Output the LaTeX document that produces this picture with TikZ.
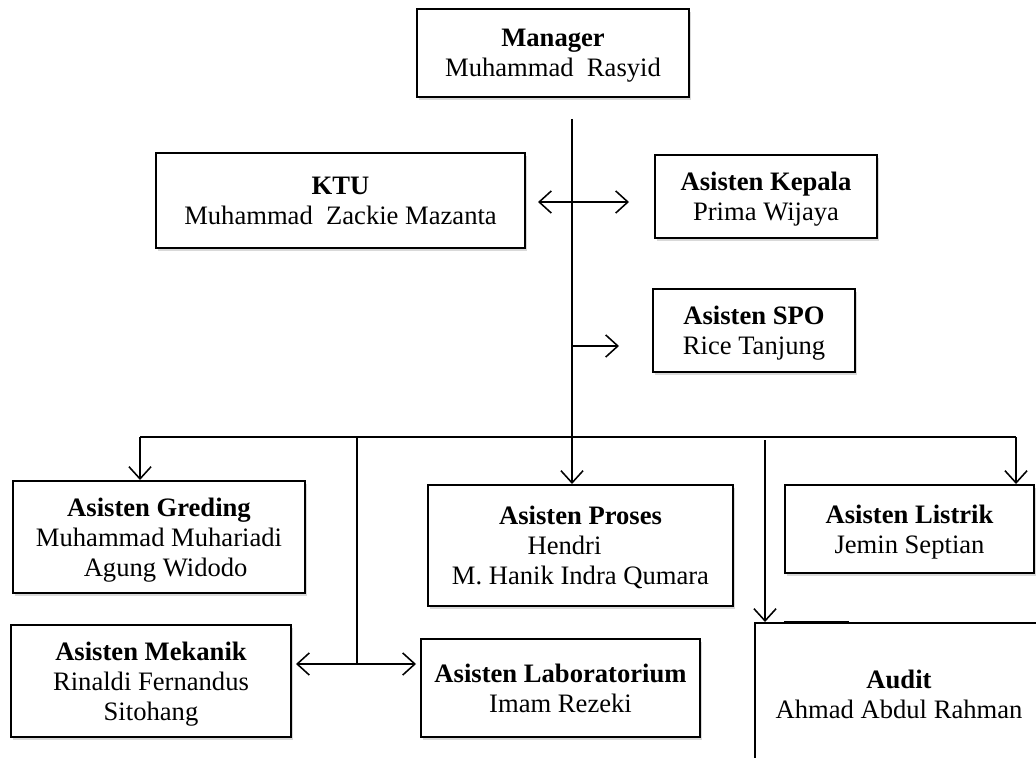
\documentclass[tikz,border=0pt]{standalone}
\usepackage{fontspec}
\setmainfont{Liberation Serif}
\usetikzlibrary{arrows.meta,shadows}

\tikzset{
  kotak/.style={draw, line width=0.9pt, fill=white, align=center, inner sep=0pt, text depth=0pt,
    drop shadow={opacity=0.3, shadow xshift=1pt, shadow yshift=-1.5pt}},
  ukuran/.style 2 args={minimum width=#1*0.451pt, minimum height=#2*0.451pt},
  garis/.style={line width=0.7pt},
  panah/.style={garis, -{Straight Barb[length=5.5pt,width=10pt]}},
  panahdua/.style={garis, {Straight Barb[length=5.5pt,width=10pt]}-{Straight Barb[length=5.5pt,width=10pt]}}
}

\begin{document}
\begin{tikzpicture}[x=0.451pt, y=-0.451pt, font=\fontsize{12}{13.5}\selectfont]
			\useasboundingbox (0,0) rectangle (1036,758);
			% Kotak
			\node[kotak, ukuran={272}{88}] (manager) at (553,53) {\textbf{Manager}\\Muhammad~ Rasyid};
			\node[kotak, ukuran={369}{95}] (ktu) at (340.5,200.5) {\textbf{KTU}\\Muhammad~ Zackie Mazanta};
			\node[kotak, ukuran={222}{83}] (kepala) at (766,196.5) {\textbf{Asisten Kepala}\\Prima Wijaya};
			\node[kotak, ukuran={202}{83}] (spo) at (754,330.5) {\textbf{Asisten SPO}\\Rice Tanjung};
			\node[kotak, ukuran={292}{112}] (greding) at (159,537) {\textbf{Asisten Greding}\\Muhammad Muhariadi\\\hspace{0.5em}Agung Widodo};
			\node[kotak, ukuran={305}{121}] (proses) at (580.5,545.5) {\textbf{Asisten Proses}\\Hendri\rule{1.2em}{0pt}\\M. Hanik Indra Qumara};
			\node[kotak, ukuran={249}{88}] (listrik) at (909.5,529) {\textbf{Asisten Listrik}\\Jemin Septian};
			\node[kotak, ukuran={280}{112}] (mekanik) at (151,681) {\textbf{Asisten Mekanik}\\Rinaldi Fernandus\\Sitohang};
			\node[kotak, ukuran={279}{98}] (lab) at (560.5,688) {\textbf{Asisten Laboratorium}\\Imam Rezeki};
			\node[kotak, ukuran={288}{142}] (audit) at (899,694) {\textbf{Audit}\\Ahmad Abdul Rahman};
			% Titik bantu
			\coordinate (atas) at (572,119);
			\coordinate (bus) at (572,437);
			\coordinate (kiri) at (140,437);
			\coordinate (kanan) at (1016,437);
			\coordinate (tengah) at (357,437);
			\coordinate (simpang) at (357,664);
			\coordinate (mekkanan) at (296,664);
			\coordinate (labkiri) at (416,664);
			\coordinate (ktukiri) at (538,202);
			\coordinate (ktukanan) at (629,202);
			\coordinate (spokiri) at (572,346);
			\coordinate (spokanan) at (619,346);
			\coordinate (auditatas) at (765,440);
			% Garis
			\draw[garis] (atas) -- (bus);
			\draw[garis] (kiri) -- (kanan);
			\draw[panahdua] (ktukiri) -- (ktukanan);
			\draw[panah] (spokiri) -- (spokanan);
			\draw[panah] (kiri) -- (kiri |- greding.north);
			\draw[panah] (bus) -- (bus |- proses.north);
			\draw[panah] (kanan) -- (kanan |- listrik.north);
			\draw[panah] (auditatas) -- (auditatas |- audit.north);
			\draw[garis] (tengah) -- (simpang);
			\draw[panahdua] (mekkanan) -- (labkiri);
			\draw[line width=1.2pt] (784,622) -- (849,622);
\end{tikzpicture}
\end{document}
